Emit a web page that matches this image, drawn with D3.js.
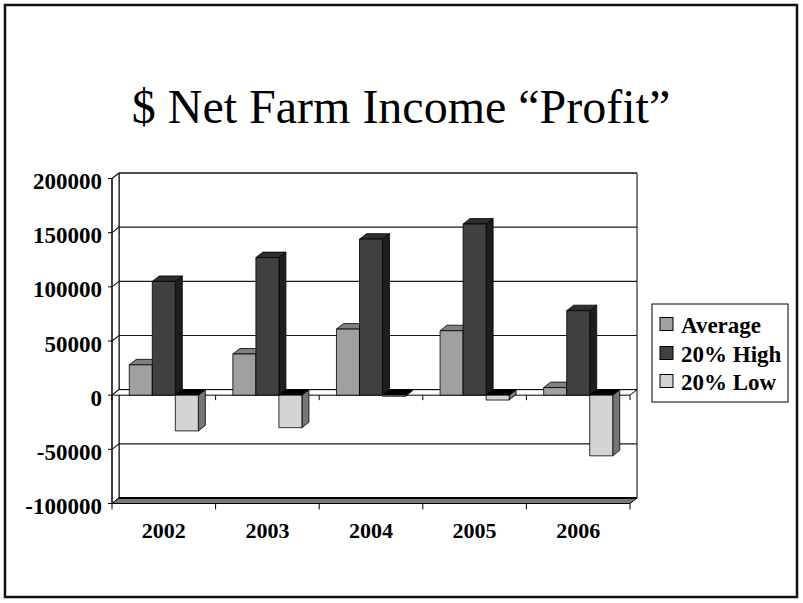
<!DOCTYPE html>
<html><head><meta charset="utf-8">
<script src="https://cdn.jsdelivr.net/npm/d3@7"></script>
<style>body{margin:0;background:#fff}svg{display:block}</style>
</head><body>
<svg id="c" width="803" height="603"></svg>
<script>
const title = "$ Net Farm Income \u201cProfit\u201d";
const years = ["2002", "2003", "2004", "2005", "2006"];
const seriesNames = ["Average", "20% High", "20% Low"];
const average = [28000, 38000, 61000, 59500, 7000];
const high = [105000, 127000, 144000, 158000, 78000];
const low = [-33000, -30000, -1000, -4500, -56000];
const yTicks = [-100000, -50000, 0, 50000, 100000, 150000, 200000];

const seriesValues = [average, high, low];
const frontCol = ["#a0a0a0", "#404040", "#d4d4d4"];
const sideCol = ["#5e5e5e", "#1e1e1e", "#767676"];
const topCol = ["#808080", "#2e2e2e", "#9a9a9a"];

const svg = d3.select("#c");
const font = "'Liberation Serif','Times New Roman',serif";
const DX = 7, DY = -5.5;

// outer frame
svg.append("rect").attr("x", 5).attr("y", 5).attr("width", 792).attr("height", 592)
  .attr("fill", "#fff").attr("stroke", "#111").attr("stroke-width", 2.5);

svg.append("text").attr("x", 401).attr("y", 123).attr("text-anchor", "middle")
  .attr("font-family", font).attr("font-size", 48).attr("fill", "#000").text(title);

const y = d3.scaleLinear().domain([-100000, 200000]).range([503.5, 178.5]);
const x = d3.scaleBand().domain(years).range([112, 630]).paddingInner(0).paddingOuter(0);
const bw = x.bandwidth() / 4.5;
const xs = d3.scaleBand().domain(d3.range(3)).range([0.75 * bw, 3.75 * bw]).padding(0);

const x0 = 112, x1 = 630;
const yMin = y(-100000), yMax = y(200000);

const g = svg.append("g");
const pts = a => a.map(p => p.join(",")).join(" ");

// back wall
g.append("polygon")
  .attr("points", pts([[x0 + DX, yMax + DY], [x1 + DX, yMax + DY], [x1 + DX, yMin + DY], [x0 + DX, yMin + DY]]))
  .attr("fill", "#fff").attr("stroke", "#000").attr("stroke-width", 1);
// side wall
g.append("polygon")
  .attr("points", pts([[x0, yMax], [x0 + DX, yMax + DY], [x0 + DX, yMin + DY], [x0, yMin]]))
  .attr("fill", "#fff").attr("stroke", "#000").attr("stroke-width", 1);
// gridlines
yTicks.forEach(t => {
  if (t === -100000) return;
  const yy = y(t);
  g.append("polyline")
    .attr("points", pts([[x0, yy], [x0 + DX, yy + DY], [x1 + DX, yy + DY]]))
    .attr("fill", "none").attr("stroke", "#1a1a1a").attr("stroke-width", 1.1);
});
// floor
g.append("polygon")
  .attr("points", pts([[x0, yMin], [x0 + DX, yMin + DY], [x1 + DX, yMin + DY], [x1, yMin]]))
  .attr("fill", "#7a7a7a").attr("stroke", "#000").attr("stroke-width", 1);
g.append("line").attr("x1", x0 + DX).attr("x2", x1 + DX).attr("y1", yMin + DY).attr("y2", yMin + DY)
  .attr("stroke", "#000").attr("stroke-width", 2);
// zero plane
const z = y(0);
g.append("polygon")
  .attr("points", pts([[x0, z], [x0 + DX, z + DY], [x1 + DX, z + DY], [x1, z]]))
  .attr("fill", "#fff").attr("stroke", "#000").attr("stroke-width", 1);

// front y axis line and ticks
g.append("line").attr("x1", x0).attr("x2", x0).attr("y1", yMax).attr("y2", yMin).attr("stroke", "#000");
yTicks.forEach(t => {
  g.append("line").attr("x1", x0 - 4).attr("x2", x0).attr("y1", y(t)).attr("y2", y(t)).attr("stroke", "#000");
  g.append("text").attr("x", 102).attr("y", y(t) + 3).attr("text-anchor", "end")
    .attr("dominant-baseline", "central")
    .attr("font-family", font).attr("font-size", 23).attr("font-weight", "bold").text(t);
});
// category ticks
const bounds = years.map(d => x(d)).concat([x1]);
bounds.forEach(b => {
  g.append("line").attr("x1", b).attr("x2", b).attr("y1", z).attr("y2", z + 5).attr("stroke", "#000");
  g.append("line").attr("x1", b).attr("x2", b).attr("y1", yMin).attr("y2", yMin + 6).attr("stroke", "#000");
});
years.forEach(d => {
  g.append("text").attr("x", x(d) + x.bandwidth() / 2).attr("y", 538).attr("text-anchor", "middle")
    .attr("font-family", font).attr("font-size", 22).attr("font-weight", "bold").text(d);
});

// bars
const bars = g.append("g");
years.forEach((yr, i) => {
  seriesValues.forEach((vals, s) => {
    const v = vals[i];
    const bx = x(yr) + xs(s);
    const w = xs.bandwidth();
    const yt = Math.min(y(v), z), yb = Math.max(y(v), z);
    const gg = bars.append("g").attr("stroke", "#000").attr("stroke-width", 0.8).attr("stroke-linejoin", "round");
    gg.append("polygon").attr("points", pts([[bx + w, yt], [bx + w + DX, yt + DY], [bx + w + DX, yb + DY], [bx + w, yb]]))
      .attr("fill", sideCol[s]);
    gg.append("polygon").attr("points", pts([[bx, yt], [bx + DX, yt + DY], [bx + w + DX, yt + DY], [bx + w, yt]]))
      .attr("fill", v < 0 ? "#000" : topCol[s]);
    gg.append("rect").attr("x", bx).attr("y", yt).attr("width", w).attr("height", Math.max(yb - yt, 0.5))
      .attr("fill", frontCol[s]);
  });
});

// legend
const lg = svg.append("g");
lg.append("rect").attr("x", 652).attr("y", 304).attr("width", 136).attr("height", 98)
  .attr("fill", "#fff").attr("stroke", "#000").attr("stroke-width", 1);
const ly = [324, 353, 381];
seriesNames.forEach((n, s) => {
  lg.append("rect").attr("x", 660).attr("y", ly[s] - 6.5).attr("width", 13).attr("height", 13)
    .attr("fill", frontCol[s]).attr("stroke", "#000").attr("stroke-width", 1);
  lg.append("text").attr("x", 681).attr("y", ly[s] + 1).attr("dominant-baseline", "central")
    .attr("font-family", font).attr("font-size", 23).attr("font-weight", "bold").text(n);
});
</script>
</body></html>
